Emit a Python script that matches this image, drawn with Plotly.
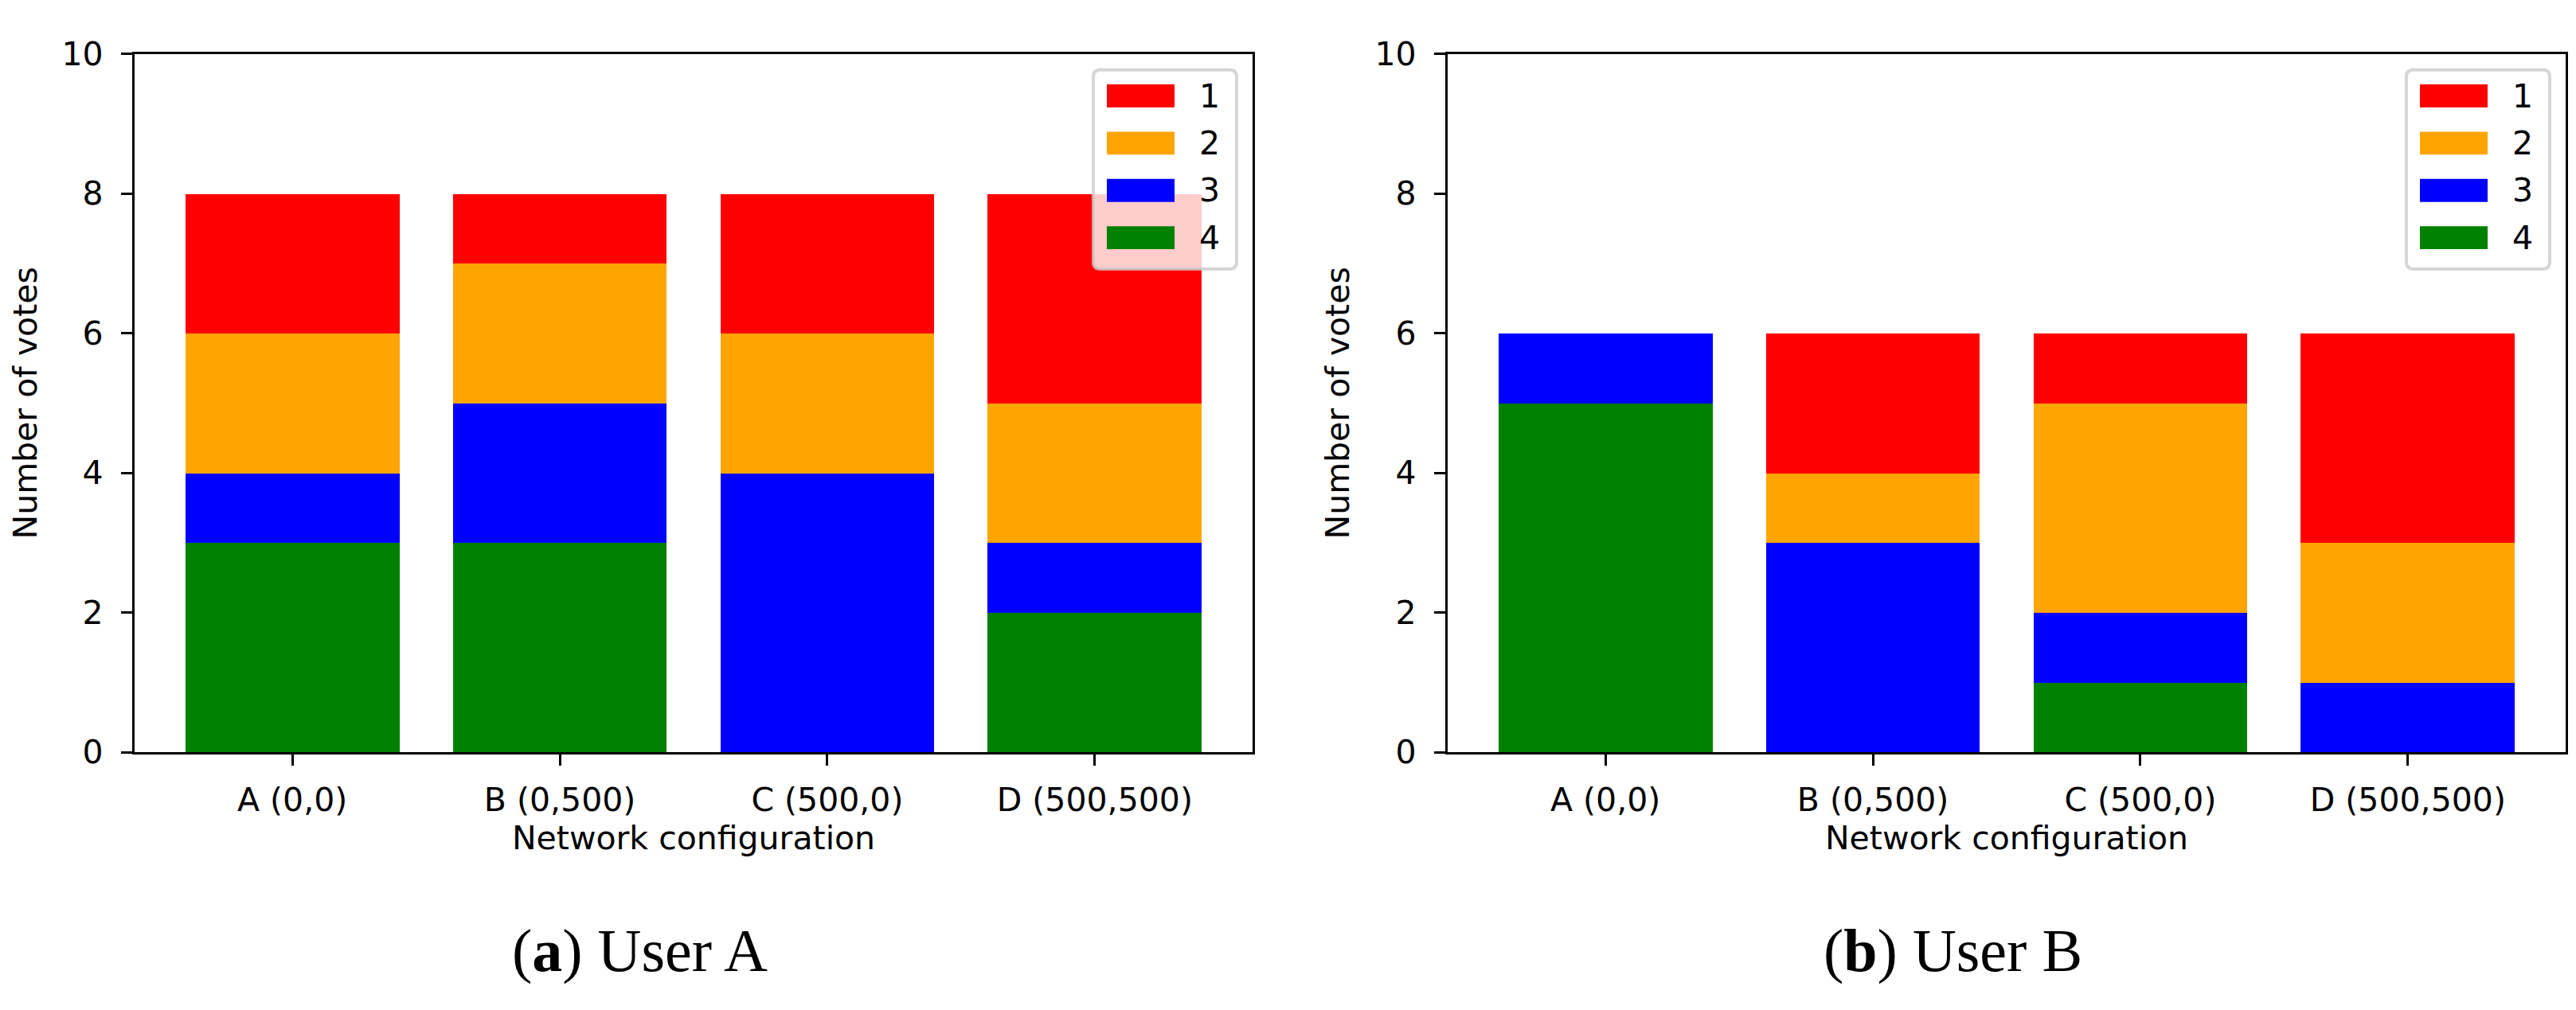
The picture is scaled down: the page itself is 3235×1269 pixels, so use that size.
import plotly.graph_objects as go

# configurations on the x axis
configs = ["A (0,0)", "B (0,500)", "C (500,0)", "D (500,500)"]

# vote levels, legend order
levels = ["1", "2", "3", "4"]
colors = {"1": "red", "2": "orange", "3": "blue", "4": "green"}

# votes per level for each user (A, B, C, D)
user_a = {
    "1": [2, 1, 2, 3],
    "2": [2, 2, 2, 2],
    "3": [1, 2, 4, 1],
    "4": [3, 3, 0, 2],
}
user_b = {
    "1": [0, 2, 1, 3],
    "2": [0, 1, 3, 2],
    "3": [1, 3, 1, 1],
    "4": [5, 0, 1, 0],
}

captions = ["(<b>a</b>) User A", "(<b>b</b>) User B"]

W, H = 3235, 1269


def px(x):
    return x / W


def py(y):
    return 1 - y / H


fig = go.Figure()

# stacked bars, level 4 at the bottom
for i, data in enumerate([user_a, user_b]):
    for lvl in reversed(levels):
        fig.add_trace(go.Bar(
            x=configs, y=data[lvl], name=lvl,
            marker=dict(color=colors[lvl], line=dict(width=0)),
            width=0.8, showlegend=False,
            xaxis="x" if i == 0 else "x2",
            yaxis="y" if i == 0 else "y2",
        ))

font = dict(family="DejaVu Sans", size=41, color="black")

axis_common = dict(
    showline=True, linecolor="black", linewidth=3.3, mirror=True,
    ticks="outside", ticklen=14, tickwidth=3.3, tickcolor="black",
    showgrid=False, zeroline=False, tickfont=font,
)

left0, left1 = 161, 1565
off = 1649  # horizontal shift of the second panel

fig.update_layout(
    width=W, height=H,
    margin=dict(l=0, r=0, t=0, b=0),
    plot_bgcolor="white", paper_bgcolor="white",
    barmode="stack", bargap=0,
    font=font,
    xaxis=dict(domain=[px(left0), px(left1)], anchor="y", type="category",
               range=[-0.59, 3.59], ticklabelstandoff=8,
               title=dict(text="Network configuration", font=font, standoff=4),
               **axis_common),
    yaxis=dict(domain=[py(949), py(37)], anchor="x", range=[0, 10], dtick=2,
               ticklabelstandoff=14,
               title=dict(text="Number of votes", font=font, standoff=20),
               **axis_common),
    xaxis2=dict(domain=[px(left0 + off), px(left1 + off)], anchor="y2", type="category",
                range=[-0.59, 3.59], ticklabelstandoff=8,
                title=dict(text="Network configuration", font=font, standoff=4),
                **axis_common),
    yaxis2=dict(domain=[py(949), py(37)], anchor="x2", range=[0, 10], dtick=2,
                ticklabelstandoff=14,
                title=dict(text="Number of votes", font=font, standoff=20),
                **axis_common),
)

# legends drawn like matplotlib's framed legend
for k in range(2):
    dx = k * off
    x0, x1, y0, y1, r = 1365 + dx, 1545 + dx, 58, 318, 9
    path = (f"M {px(x0 + r)},{py(y0)} L {px(x1 - r)},{py(y0)} "
            f"Q {px(x1)},{py(y0)} {px(x1)},{py(y0 + r)} L {px(x1)},{py(y1 - r)} "
            f"Q {px(x1)},{py(y1)} {px(x1 - r)},{py(y1)} L {px(x0 + r)},{py(y1)} "
            f"Q {px(x0)},{py(y1)} {px(x0)},{py(y1 - r)} L {px(x0)},{py(y0 + r)} "
            f"Q {px(x0)},{py(y0)} {px(x0 + r)},{py(y0)} Z")
    fig.add_shape(type="path", path=path, xref="paper", yref="paper",
                  fillcolor="rgba(255,255,255,0.8)",
                  line=dict(color="rgba(204,204,204,0.8)", width=4))
    for j, lvl in enumerate(levels):
        yc = 92 + j * 61.7
        fig.add_shape(type="rect", xref="paper", yref="paper",
                      x0=px(1382 + dx), x1=px(1467 + dx),
                      y0=py(yc - 15), y1=py(yc + 15),
                      fillcolor=colors[lvl], line=dict(width=0))
        fig.add_annotation(text=lvl, xref="paper", yref="paper",
                           x=px(1496 + dx), y=py(yc), xanchor="left", yanchor="middle",
                           showarrow=False, font=font)

# sub-figure captions
for k, cap in enumerate(captions):
    fig.add_annotation(text=cap, xref="paper", yref="paper",
                       x=px(795 + k * off), y=py(1208), xanchor="center", yanchor="middle",
                       showarrow=False,
                       font=dict(family="Liberation Serif", size=76, color="black"))

fig.write_html("out.html")
